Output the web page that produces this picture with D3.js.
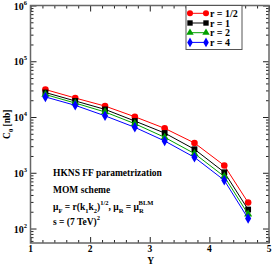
<!DOCTYPE html>
<html>
<head>
<meta charset="utf-8">
<script src="https://cdn.jsdelivr.net/npm/d3@7"></script>
<style>
  body { margin: 0; background: #fff; }
  text { font-family: "Liberation Serif", "DejaVu Serif", serif; font-weight: bold; }
</style>
</head>
<body>
<div id="chart"></div>
<script>
// rapidity values
const rapidity = [1.25, 1.75, 2.25, 2.75, 3.25, 3.75, 4.25, 4.65];
// C0 [nb] for each scale factor r
const r_half = [31100, 21900, 15700, 10100, 6270, 3420, 1350, 292];
const r_one  = [27500, 19400, 13700, 8470, 5160, 2640, 1020, 219];
const r_two  = [25300, 17800, 12300, 7590, 4320, 2210, 857, 181];
const r_four = [22900, 16200, 10500, 6530, 3720, 1890, 733, 151];
const seriesNames = ['r = 1/2', 'r = 1', 'r = 2', 'r = 4'];
const yMajor = [2, 3, 4, 5, 6];
const xMajor = [1, 2, 3, 4, 5];
const notes = ['HKNS FF parametrization', 'MOM scheme'];

const width = 272, height = 265;
const box = {left: 30.5, right: 269, top: 5.5, bottom: 243};

const svg = d3.select('#chart').append('svg')
  .attr('width', width)
  .attr('height', height);

const x = d3.scaleLinear().domain([1, 5]).range([box.left, box.right]);
const y = d3.scaleLog().domain([55, 1e6]).range([box.bottom, box.top]);

const series = [
  {name: seriesNames[0], values: r_half, color: '#ff0000', symbol: d3.symbolCircle, size: 34},
  {name: seriesNames[1], values: r_one, color: '#000000', symbol: d3.symbolSquare, size: 34},
  {name: seriesNames[2], values: r_two, color: '#00a000', symbol: d3.symbolTriangle, size: 28},
  {name: seriesNames[3], values: r_four, color: '#0000ff', symbol: d3.symbolDiamond, size: 32}
];

// minor ticks
const xMinor = d3.range(1, 5.001, 0.2).filter(v => Math.abs(v - Math.round(v)) > 1e-6);
const yMinor = [];
for (let e = 1; e < 6; e++) {
  for (let m = 2; m <= 9; m++) {
    const v = m * Math.pow(10, e);
    if (v >= 55) yMinor.push(v);
  }
}

function axisGroup(axis, tx, ty) {
  const g = svg.append('g')
    .attr('transform', `translate(${tx},${ty})`)
    .call(axis);
  g.select('.domain').remove();
  g.selectAll('line').attr('stroke', '#222').attr('stroke-width', 1);
  g.selectAll('text').remove();
  return g;
}

// inward ticks on all four sides
axisGroup(d3.axisBottom(x).tickValues(xMajor).tickSize(-6), 0, box.bottom);
axisGroup(d3.axisBottom(x).tickValues(xMinor).tickSize(-3), 0, box.bottom);
axisGroup(d3.axisTop(x).tickValues(xMajor).tickSize(-6), 0, box.top);
axisGroup(d3.axisTop(x).tickValues(xMinor).tickSize(-3), 0, box.top);
axisGroup(d3.axisLeft(y).tickValues(yMajor.map(e => Math.pow(10, e))).tickSize(-6), box.left, 0);
axisGroup(d3.axisLeft(y).tickValues(yMinor).tickSize(-3), box.left, 0);
axisGroup(d3.axisRight(y).tickValues(yMajor.map(e => Math.pow(10, e))).tickSize(-6), box.right, 0);
axisGroup(d3.axisRight(y).tickValues(yMinor).tickSize(-3), box.right, 0);

// frame
svg.append('rect')
  .attr('x', box.left).attr('y', box.top)
  .attr('width', box.right - box.left).attr('height', box.bottom - box.top)
  .attr('fill', 'none').attr('stroke', '#666').attr('stroke-width', 1.5);

// tick labels
svg.selectAll('.xlab').data(xMajor).enter().append('text')
  .attr('x', d => x(d)).attr('y', 252)
  .attr('text-anchor', 'middle')
  .attr('font-size', 9.5)
  .text(d => d);

const ylab = svg.selectAll('.ylab').data(yMajor).enter().append('text')
  .attr('x', 27).attr('y', d => y(Math.pow(10, d)) + 4)
  .attr('text-anchor', 'end')
  .attr('font-size', 10);
ylab.append('tspan').text('10');
ylab.append('tspan').attr('dy', -5).attr('font-size', 6.5).text(d => d);

// axis titles
svg.append('text')
  .attr('x', (box.left + box.right) / 2 + 1).attr('y', 264)
  .attr('text-anchor', 'middle').attr('font-size', 9.5)
  .text('Y');

const yt = svg.append('text')
  .attr('transform', `translate(10,${(box.top + box.bottom) / 2}) rotate(-90)`)
  .attr('text-anchor', 'middle').attr('font-size', 9.5);
yt.append('tspan').text('C');
yt.append('tspan').attr('dy', 2.5).attr('font-size', 6.5).text('0');
yt.append('tspan').attr('dy', -2.5).text(' [nb]');

// series lines and markers
const line = d3.line()
  .x((d, i) => x(rapidity[i]))
  .y(d => y(d));

series.forEach(s => {
  svg.append('path')
    .datum(s.values)
    .attr('d', line)
    .attr('fill', 'none')
    .attr('stroke', s.color)
    .attr('stroke-width', 1);
  svg.selectAll(null).data(s.values).enter().append('path')
    .attr('transform', (d, i) => `translate(${x(rapidity[i])},${y(d)})`)
    .attr('d', d3.symbol().type(s.symbol).size(s.size))
    .attr('fill', s.color);
});

// legend
const lg = svg.append('g');
lg.append('rect')
  .attr('x', 186).attr('y', box.top)
  .attr('width', 56).attr('height', 44)
  .attr('fill', '#fff').attr('stroke', '#555').attr('stroke-width', 1);
series.forEach((s, i) => {
  const ly = 13.3 + i * 9.7;
  lg.append('line')
    .attr('x1', 190).attr('x2', 206).attr('y1', ly).attr('y2', ly)
    .attr('stroke', s.color).attr('stroke-width', 1);
  [190, 206].forEach(px => {
    lg.append('path')
      .attr('transform', `translate(${px},${ly})`)
      .attr('d', d3.symbol().type(s.symbol).size(s.size * 0.85))
      .attr('fill', s.color);
  });
  lg.append('text')
    .attr('x', 210).attr('y', ly + 3.5)
    .attr('font-size', 10)
    .text(s.name);
});

// annotations
const ann = svg.append('g').attr('font-size', 9.5);
ann.append('text').attr('x', 53).attr('y', 176).text(notes[0]);
ann.append('text').attr('x', 53).attr('y', 193).text(notes[1]);

const mu = ann.append('text').attr('x', 53).attr('y', 210);
mu.append('tspan').text('μ');
mu.append('tspan').attr('dy', 2.5).attr('font-size', 6.5).text('F');
mu.append('tspan').attr('dy', -2.5).text(' = r(k');
mu.append('tspan').attr('dy', 2.5).attr('font-size', 6.5).text('1');
mu.append('tspan').attr('dy', -2.5).text('k');
mu.append('tspan').attr('dy', 2.5).attr('font-size', 6.5).text('2');
mu.append('tspan').attr('dy', -2.5).text(')');
mu.append('tspan').attr('dy', -5).attr('font-size', 6.5).text('1/2');
mu.append('tspan').attr('dy', 5).text(', μ');
mu.append('tspan').attr('dy', 2.5).attr('font-size', 6.5).text('R');
mu.append('tspan').attr('dy', -2.5).text(' = μ');
mu.append('tspan').attr('dy', 2.5).attr('font-size', 6.5).text('R');
mu.append('tspan').attr('dx', -5).attr('dy', -8).attr('font-size', 6.5).text('BLM');

const sq = ann.append('text').attr('x', 53).attr('y', 225);
sq.append('tspan').text('s = (7 TeV)');
sq.append('tspan').attr('dy', -5).attr('font-size', 6.5).text('2');
</script>
</body>
</html>
